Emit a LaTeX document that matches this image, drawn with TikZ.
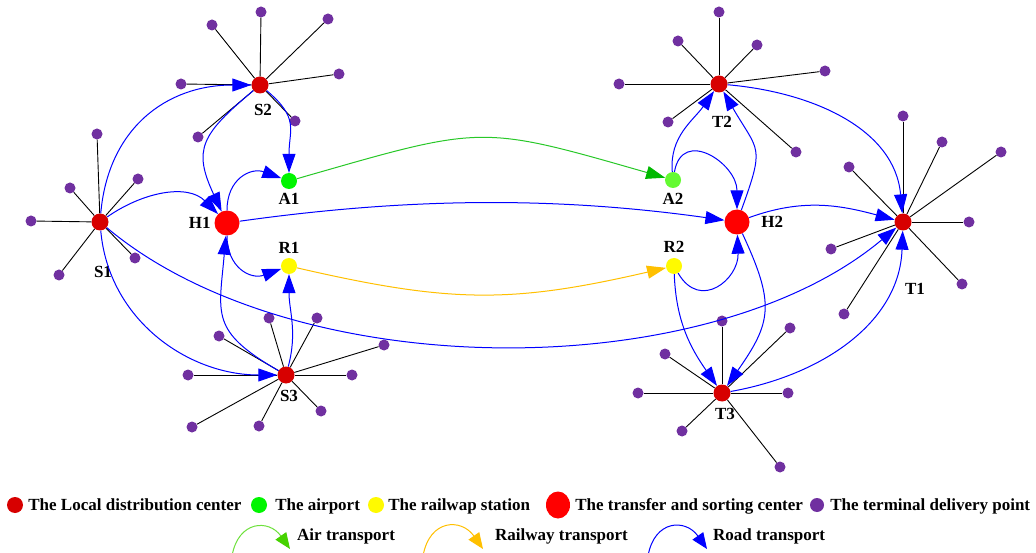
\documentclass[tikz,border=0pt]{standalone}
\usepackage{fontspec}
\setmainfont{Liberation Serif}
\usetikzlibrary{positioning,arrows.meta,shapes.geometric}

\definecolor{ldcred}{RGB}{215,0,0}
\definecolor{tscred}{RGB}{255,0,0}
\definecolor{airgreen}{RGB}{0,245,0}
\definecolor{airgreenb}{RGB}{100,250,50}
\definecolor{railyellow}{RGB}{255,250,0}
\definecolor{termpurple}{RGB}{112,48,160}
\definecolor{airline}{RGB}{40,200,40}
\definecolor{airhead}{RGB}{0,185,0}
\definecolor{railline}{RGB}{255,192,0}
\definecolor{roadblue}{RGB}{0,0,255}
\definecolor{legair}{RGB}{110,225,60}
\definecolor{legairhead}{RGB}{70,210,0}

\begin{document}
\begin{tikzpicture}[x=1pt,y=-1pt,
font=\fontsize{17}{20}\selectfont\bfseries,
dc/.style={circle,fill=ldcred,minimum size=17pt,inner sep=0pt},
hub/.style={circle,fill=tscred,minimum size=25pt,inner sep=0pt},
port/.style={circle,fill=#1,minimum size=16pt,inner sep=0pt},
leaf/.style={circle,fill=termpurple,minimum size=11pt,inner sep=0pt},
spoke/.style={draw=black,line width=0.9pt},
lbl/.style={inner sep=0pt},
ltxt/.style={inner sep=0pt,text height=11.3pt,text depth=0pt},
road/.style={draw=roadblue,line width=1pt,-{Triangle[length=19pt,width=13pt]}},
air/.style={draw=airline,line width=1pt,-{Triangle[length=19pt,width=13pt,color=airhead]}},
rail/.style={draw=railline,line width=1pt,-{Triangle[length=19pt,width=13pt]}},
legarrow/.style={line width=1pt,-{Triangle[length=16pt,width=13pt]}}]

\fill[white] (0,0) rectangle (1036,553);
\useasboundingbox (0,0) rectangle (1036,553);

% local distribution centers
\node (S1) [dc,label={[lbl,label distance=35.75pt,xshift=3pt]below:S1}] at (100,222) {};
\node (S2) [dc,label={[lbl,label distance=10.75pt,xshift=3pt]below:S2}] at (260,85) {};
\node (S3) [dc,label={[lbl,label distance=6.75pt,xshift=3pt]below:S3}] at (286,375) {};
\node (T1) [dc,label={[lbl,label distance=52.75pt,xshift=12pt]below:T1}] at (903,222) {};
\node (T2) [dc,label={[lbl,label distance=23.75pt,xshift=3pt]below:T2}] at (719,84) {};
\node (T3) [dc,label={[lbl,label distance=6.75pt,xshift=3pt]below:T3}] at (722,393) {};

% transfer centers, airports, stations
\node (H1) [hub,label={[lbl,label distance=3.5pt]left:H1}] at (227,223) {};
\node (H2) [hub,label={[lbl,label distance=11.5pt]right:H2}] at (737,222) {};
\node (A1) [port=airgreen,label={[lbl,label distance=4.25pt]below:A1}] at (289,181) {};
\node (A2) [port=airgreenb,label={[lbl,label distance=5.25pt]below:A2}] at (673,180) {};
\node (R1) [port=railyellow,label={[lbl,label distance=4.25pt]above:R1}] at (289,266) {};
\node (R2) [port=railyellow,label={[lbl,label distance=5.25pt]above:R2}] at (674,266) {};

% terminal delivery points
\foreach \p [count=\i] in {(97,134),(70,188),(138,179),(31,221),(59,275),(135,258)} {
  \node (S1-\i) [leaf] at \p {};
  \draw[spoke] (S1) -- (S1-\i);
}
\foreach \p [count=\i] in {(261,12),(212,25),(328,19),(339,74),(181,84),(295,121),(198,137)} {
  \node (S2-\i) [leaf] at \p {};
  \draw[spoke] (S2) -- (S2-\i);
}
\foreach \p [count=\i] in {(269,318),(317,318),(219,336),(384,345),(188,375),(352,375),(192,427),(259,426),(321,411)} {
  \node (S3-\i) [leaf] at \p {};
  \draw[spoke] (S3) -- (S3-\i);
}
\foreach \p [count=\i] in {(903,116),(942,142),(1001,152),(849,167),(969,222),(831,249),(962,284),(844,314)} {
  \node (T1-\i) [leaf] at \p {};
  \draw[spoke] (T1) -- (T1-\i);
}
\foreach \p [count=\i] in {(719,12),(678,41),(757,45),(825,71),(619,84),(668,122),(796,152)} {
  \node (T2-\i) [leaf] at \p {};
  \draw[spoke] (T2) -- (T2-\i);
}
\foreach \p [count=\i] in {(722,321),(790,328),(665,354),(638,393),(788,393),(682,431),(780,467)} {
  \node (T3-\i) [leaf] at \p {};
  \draw[spoke] (T3) -- (T3-\i);
}

% road transport
\draw[road] (S1) to[out=85,in=180,looseness=1.1] (S2);
\draw[road] (S1) to[out=35,in=135] (H1);
\draw[road] (S1) to[out=-85,in=180] (S3);
\draw[road] (S1) to[out=-40,in=220,looseness=0.8] (T1);
\draw[road] (S2) to[out=220,in=115,looseness=1.4] (H1);
\draw[road] (S2) to[out=-40,in=90,looseness=1.3] (A1);
\draw[road] (H1) to[out=90,in=160,looseness=1.3] (A1);
\draw[road] (H1) to[out=-90,in=200,looseness=1.3] (R1);
\draw[road] (S3) to[out=150,in=-95,looseness=1.4] (H1);
\draw[road] (S3) to[out=75,in=-90] (R1);
\draw[road] (H1) to[out=8,in=172,looseness=0.9] (H2);
\draw[road] (A2) to[out=95,in=235] (T2);
\draw[road] (A2) to[out=80,in=90,looseness=1.6] (H2);
\draw[road] (H2) to[out=70,in=-60,looseness=1.5] (T2);
\draw[road] (R2) to[out=-60,in=-88,looseness=1.6] (H2);
\draw[road] (R2) to[out=-88,in=125] (T3);
\draw[road] (H2) to[out=-65,in=55,looseness=1.3] (T3);
\draw[road] (T2) to[out=-5,in=95] (T1);
\draw[road] (H2) to[out=20,in=165] (T1);
\draw[road] (T3) to[out=10,in=-92] (T1);

% air and railway transport
\draw[air] (A1) to[out=16,in=164,looseness=1.35] (A2);
\draw[rail] (R1) to[out=-13,in=193,looseness=1.1] (R2);

% legend
\node (k-ldc) [dc,minimum size=16pt] at (15,505) {};
\node (t-ldc) [ltxt,right=5pt of k-ldc] {The Local distribution center};
\node (k-air) [port=airgreen] at (259,505) {};
\node (t-air) [ltxt,right=8pt of k-air] {The airport};
\node (k-rail) [port=railyellow] at (376,505) {};
\node (t-rail) [ltxt,right=4pt of k-rail] {The railwap station};
\node (k-tsc) [hub,minimum width=24pt,minimum height=27pt,ellipse] at (558,505) {};
\node (t-tsc) [ltxt,right=5pt of k-tsc] {The transfer and sorting center};
\node (k-term) [leaf,minimum size=14pt] at (817,505) {};
\node (t-term) [ltxt,right=6pt of k-term] {The terminal delivery point};

\coordinate (la-s) at (232,556);
\coordinate (la-e) at (290,549);
\coordinate (lr-s) at (423,556);
\coordinate (lr-e) at (483,549);
\coordinate (lo-s) at (648,556);
\coordinate (lo-e) at (707,549);
\draw[legarrow,draw=legair,-{Triangle[length=16pt,width=13pt,color=legairhead]}] (la-s) to[out=80,in=125,looseness=1.6] (la-e);
\draw[legarrow,draw=railline] (lr-s) to[out=80,in=125,looseness=1.6] (lr-e);
\draw[legarrow,draw=roadblue] (lo-s) to[out=80,in=125,looseness=1.6] (lo-e);
\node (t-la) [ltxt,anchor=west] at (297,535) {Air transport};
\node (t-lr) [ltxt,anchor=west] at (495,535) {Railway transport};
\node (t-lo) [ltxt,anchor=west] at (713,535) {Road transport};
\end{tikzpicture}
\end{document}
